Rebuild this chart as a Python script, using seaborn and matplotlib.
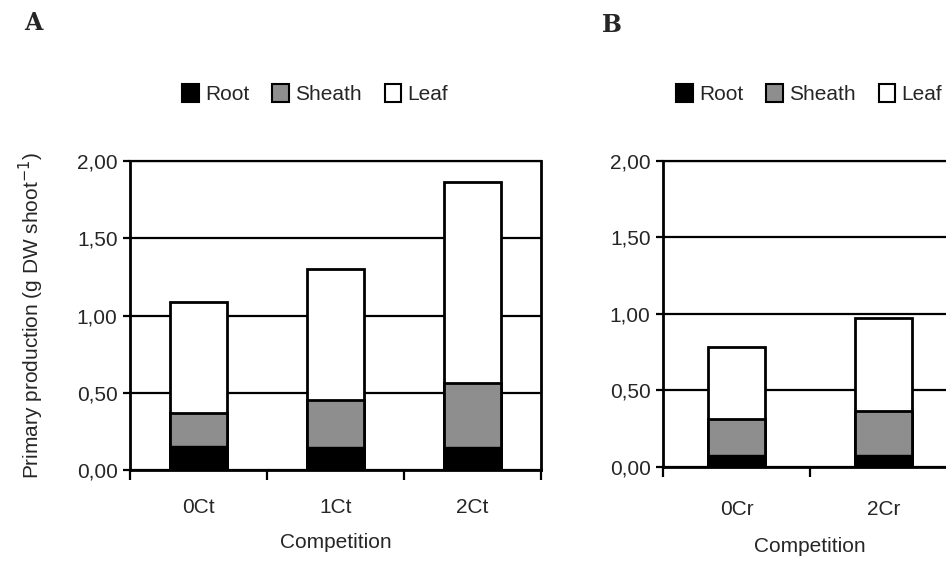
import numpy as np
import pandas as pd
import matplotlib
matplotlib.use("Agg")
import matplotlib.pyplot as plt
from matplotlib.patches import Patch
from matplotlib.ticker import FuncFormatter
import seaborn as sns

## data
cats_A = ["0Ct", "1Ct", "2Ct"]
root_A = [0.157, 0.147, 0.147]
sheath_A = [0.214, 0.306, 0.414]
leaf_A = [0.714, 0.850, 1.301]

cats_B = ["0Cr", "2Cr"]
root_B = [0.076, 0.076]
sheath_B = [0.234, 0.290]
leaf_B = [0.474, 0.604]

parts = ["Root", "Sheath", "Leaf"]
part_colors = ["black", "#8e8e8e", "white"]

sns.set_theme(style="white")
plt.rcParams["font.family"] = ["Liberation Sans", "DejaVu Sans"]

fig = plt.figure(figsize=(9.46, 5.63), dpi=100)
W, H = 946, 563
axA = fig.add_axes([130 / W, 93 / H, 411 / W, 309 / H])
axB = fig.add_axes([663 / W, 96.3 / H, 294 / W, 306 / H])


def comma_fmt(v, pos):
    return f"{v:.2f}".replace(".", ",")


def draw_panel(ax, cats, root, sheath, leaf, width, tick_pad, lab_pad):
    df = pd.DataFrame({"cat": cats, "root": root, "sheath": sheath, "leaf": leaf})
    df["sheath_top"] = df["root"] + df["sheath"]
    df["total"] = df["sheath_top"] + df["leaf"]

    # stacked look: draw cumulative bars on top of each other
    sns.barplot(data=df, x="cat", y="total", color="white", edgecolor="black",
                linewidth=2, width=width, saturation=1, ax=ax, zorder=3)
    sns.barplot(data=df, x="cat", y="sheath_top", color=part_colors[1], edgecolor="black",
                linewidth=2, width=width, saturation=1, ax=ax, zorder=4)
    sns.barplot(data=df, x="cat", y="root", color="black", edgecolor="black",
                linewidth=1, width=width, saturation=1, ax=ax, zorder=5)

    n = len(cats)
    ax.set_xlim(-0.5, n - 0.5)
    ax.set_ylim(0, 2)
    ax.set_yticks([0, 0.5, 1.0, 1.5, 2.0])
    ax.yaxis.set_major_formatter(FuncFormatter(comma_fmt))
    ax.yaxis.grid(True, color="black", lw=1.6)
    ax.xaxis.grid(False)
    ax.set_axisbelow(True)

    ax.set_xticks(np.arange(-0.5, n), minor=True)
    ax.tick_params(axis="x", which="major", length=0, pad=tick_pad, labelsize=15)
    ax.tick_params(axis="x", which="minor", length=7, width=1.6, direction="out",
                   bottom=True, color="black")
    ax.tick_params(axis="y", length=5, width=1.6, direction="out", left=True,
                   color="black", labelsize=15, pad=4)
    ax.set_xlabel("Competition", fontsize=15, labelpad=lab_pad)
    ax.set_ylabel("")
    for side in ["left", "bottom", "right", "top"]:
        ax.spines[side].set_color("black")
        ax.spines[side].set_linewidth(2)
    ax.spines["top"].set_linewidth(1.6)


draw_panel(axA, cats_A, root_A, sheath_A, leaf_A, 0.42, 20, 12)
draw_panel(axB, cats_B, root_B, sheath_B, leaf_B, 0.39, 24, 13)

axA.set_ylabel("Primary production (g DW shoot$^{-1}$)", fontsize=15, labelpad=22)

# legends
handles = [Patch(facecolor=c, edgecolor="black", linewidth=1.5, label=p)
           for p, c in zip(parts, part_colors)]
for cx in [315 / W, 809 / W]:
    fig.legend(handles=handles, loc="center", bbox_to_anchor=(cx, 1 - 94 / H),
               ncol=3, frameon=False, fontsize=15, handlelength=0.8, handleheight=1.0,
               handletextpad=0.3, columnspacing=1.1, borderpad=0)

# panel letters
fig.text(33 / W, 1 - 23 / H, "A", fontsize=17, family="DejaVu Serif", weight="bold",
         ha="center", va="center")
fig.text(612 / W, 1 - 25 / H, "B", fontsize=17, family="DejaVu Serif", weight="bold",
         ha="center", va="center")

fig.savefig("out.png", dpi=100)
